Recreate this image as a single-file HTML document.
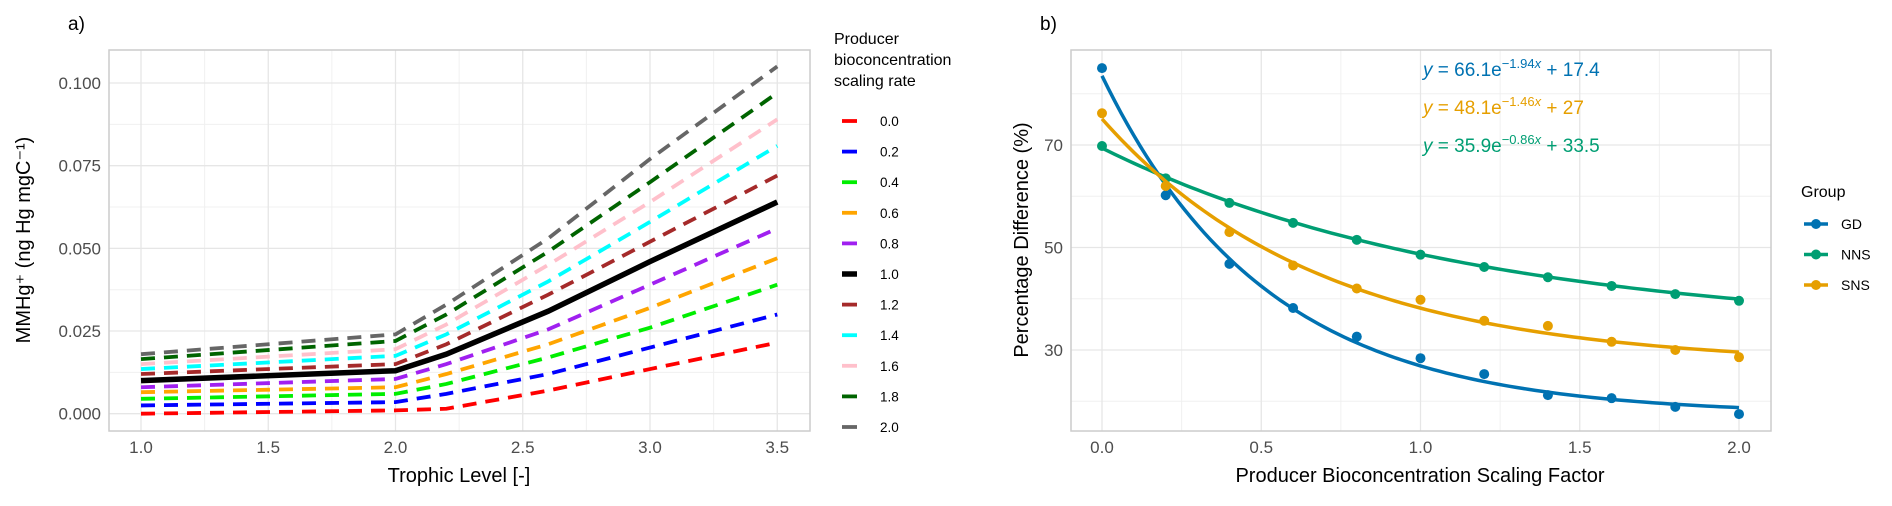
<!DOCTYPE html>
<html><head><meta charset="utf-8"><style>
body{margin:0;background:#fff;}
svg{display:block;font-family:"Liberation Sans",Arial,sans-serif;}
</style></head><body>
<svg id="c" width="1892" height="506" viewBox="0 0 1892 506"></svg>
<script>
// ---- Panel a data ----
const trophicLevels = [1.0, 2.0, 2.2, 2.6, 3.0, 3.5];
const scalingRates = ["0.0","0.2","0.4","0.6","0.8","1.0","1.2","1.4","1.6","1.8","2.0"];
const seriesColors = ["#ff0000","#0000ff","#00ee00","#ffa500","#a020f0","#000000","#a52a2a","#00ffff","#ffc0cb","#006400","#666666"];
const r00 = [0.000,0.001,0.0015,0.007,0.0135,0.0215];
const r02 = [0.0025,0.0035,0.006,0.012,0.020,0.030];
const r04 = [0.0045,0.006,0.009,0.017,0.026,0.039];
const r06 = [0.0065,0.008,0.012,0.021,0.032,0.047];
const r08 = [0.008,0.0105,0.015,0.0255,0.039,0.056];
const r10 = [0.010,0.013,0.018,0.031,0.046,0.064];
const r12 = [0.012,0.015,0.021,0.036,0.052,0.072];
const r14 = [0.0135,0.0175,0.024,0.040,0.058,0.081];
const r16 = [0.015,0.0195,0.027,0.045,0.064,0.089];
const r18 = [0.0165,0.022,0.030,0.049,0.070,0.097];
const r20 = [0.018,0.024,0.033,0.053,0.077,0.105];
const seriesA = [r00,r02,r04,r06,r08,r10,r12,r14,r16,r18,r20];
const aXTicks = [1.0,1.5,2.0,2.5,3.0,3.5];
const aYTicks = [0.000,0.025,0.050,0.075,0.100];
// ---- Panel b data ----
const factors = [0,0.2,0.4,0.6,0.8,1.0,1.2,1.4,1.6,1.8,2.0];
const groups = ["GD","NNS","SNS"];
const groupColors = ["#0072b2","#009e73","#e69f00"];
const gdValues = [85,60.2,46.8,38.2,32.6,28.4,25.3,21.2,20.6,18.9,17.5];
const nnsValues = [69.8,63.5,58.7,54.8,51.5,48.6,46.2,44.2,42.5,40.9,39.6];
const snsValues = [76.2,62,53,46.5,42,39.8,35.7,34.7,31.6,30,28.6];
const fitA = [66.1,35.9,48.1];
const fitB = [-1.94,-0.86,-1.46];
const fitC = [17.4,33.5,27];
const bXTicks = [0.0,0.5,1.0,1.5,2.0];
const bYTicks = [30,50,70];
const bYMinor = [20,40,60,80];

const svg = document.getElementById('c');
const NS = "http://www.w3.org/2000/svg";
function mk(tag, attrs, parent){const e=document.createElementNS(NS,tag);for(const k in attrs)e.setAttribute(k,attrs[k]);(parent||svg).appendChild(e);return e;}

// ===== Panel a =====
const ax = v => 141 + (v-1)*254.5;
const ay = v => 413.7 - v*3307;
const gA = mk('g',{});


mk('rect',{x:109,y:50,width:701,height:381,fill:'#fff'},gA);
for(let v=1.25; v<3.6; v+=0.5){mk('line',{x1:ax(v),x2:ax(v),y1:50,y2:431,stroke:'#f0f0f0','stroke-width':1},gA);}
for(let i=0;i<aYTicks.length-1;i++){const v=(aYTicks[i]+aYTicks[i+1])/2;mk('line',{x1:109,x2:810,y1:ay(v),y2:ay(v),stroke:'#f0f0f0','stroke-width':1},gA);}
aXTicks.forEach(v=>{
  const l=mk('line',{x1:ax(v),x2:ax(v),y1:50,y2:431,stroke:'#e6e6e6','stroke-width':1.3},gA);
  
  
  const t=mk('text',{x:ax(v),y:453,'text-anchor':'middle','font-size':17,fill:'#4d4d4d'},gA);
  t.textContent=v.toFixed(1);
  
  
});
aYTicks.forEach(v=>{
  mk('line',{x1:109,x2:810,y1:ay(v),y2:ay(v),stroke:'#e6e6e6','stroke-width':1.3},gA);
  const t=mk('text',{x:101,y:ay(v)+6,'text-anchor':'end','font-size':17,fill:'#4d4d4d'},gA);
  t.textContent=v.toFixed(3);
  
  
});
seriesA.forEach((s,i)=>{
  const pts=s.map((v,j)=>ax(trophicLevels[j])+','+ay(v)).join(' ');
  const solid = scalingRates[i]==="1.0";
  const p=mk('polyline',{points:pts,fill:'none',stroke:seriesColors[i],'stroke-width':solid?5.5:3.8,'stroke-dasharray':solid?'none':'14 9'},gA);
  
  
});
mk('rect',{x:109,y:50,width:701,height:381,fill:'none',stroke:'#cccccc','stroke-width':1.5},gA);
let t;
t=mk('text',{x:68,y:30,'font-size':19,fill:'#000'},gA);t.textContent='a)';

t=mk('text',{x:459,y:482,'text-anchor':'middle','font-size':20,fill:'#000'},gA);t.textContent='Trophic Level [-]';

t=mk('text',{x:0,y:0,'text-anchor':'middle','font-size':20,fill:'#000',transform:'translate(30,240) rotate(-90)'},gA);t.textContent='MMHg⁺ (ng Hg mgC⁻¹)';

// legend a
['Producer','bioconcentration','scaling rate'].forEach((s,i)=>{const e=mk('text',{x:834,y:44+i*21,'font-size':16,fill:'#000'},gA);e.textContent=s;
});
scalingRates.forEach((r,i)=>{
  const y=121+i*30.6;
  const l=mk('line',{x1:842,x2:857,y1:y,y2:y,stroke:seriesColors[i],'stroke-width':r==="1.0"?5.5:3.8},gA);
  
  const e=mk('text',{x:880,y:y+5,'font-size':13.5,fill:'#000'},gA);e.textContent=r;
  
});

// ===== Panel b =====
const bx = v => 1102 + v*318.5;
const by = v => 145 + (70-v)*5.125;
const gB = mk('g',{});


[0.25,0.75,1.25,1.75].forEach(v=>mk('line',{x1:bx(v),x2:bx(v),y1:50,y2:431,stroke:'#f0f0f0','stroke-width':1},gB));
bYMinor.forEach(v=>mk('line',{x1:1071,x2:1771,y1:by(v),y2:by(v),stroke:'#f0f0f0','stroke-width':1},gB));
bXTicks.forEach(v=>{
  mk('line',{x1:bx(v),x2:bx(v),y1:50,y2:431,stroke:'#e6e6e6','stroke-width':1.3},gB);
  const e=mk('text',{x:bx(v),y:453,'text-anchor':'middle','font-size':17,fill:'#4d4d4d'},gB);e.textContent=v.toFixed(1);
  
});
bYTicks.forEach(v=>{
  mk('line',{x1:1071,x2:1771,y1:by(v),y2:by(v),stroke:'#e6e6e6','stroke-width':1.3},gB);
  const e=mk('text',{x:1063,y:by(v)+6,'text-anchor':'end','font-size':17,fill:'#4d4d4d'},gB);e.textContent=v;
  
});
const bSeries=[gdValues,nnsValues,snsValues];
groups.forEach((g,i)=>{
  let pts=[];
  for(let k=0;k<=100;k++){const xv=k*0.02;pts.push(bx(xv)+','+by(fitA[i]*Math.exp(fitB[i]*xv)+fitC[i]));}
  const p=mk('polyline',{points:pts.join(' '),fill:'none',stroke:groupColors[i],'stroke-width':3.5},gB);
  
  bSeries[i].forEach((v,j)=>{
    const c=mk('circle',{cx:bx(factors[j]),cy:by(v),r:5,fill:groupColors[i]},gB);
    
  });
});
mk('rect',{x:1071,y:50,width:700,height:381,fill:'none',stroke:'#cccccc','stroke-width':1.5},gB);
t=mk('text',{x:1040,y:30,'font-size':19,fill:'#000'},gB);t.textContent='b)';

t=mk('text',{x:1420,y:482,'text-anchor':'middle','font-size':20,fill:'#000'},gB);t.textContent='Producer Bioconcentration Scaling Factor';

t=mk('text',{x:0,y:0,'text-anchor':'middle','font-size':20,fill:'#000',transform:'translate(1028,240) rotate(-90)'},gB);t.textContent='Percentage Difference (%)';

// equations
const eqOrder=[0,2,1];
eqOrder.forEach((gi,k)=>{
  const y=76+k*38;
  const e=mk('text',{x:1423,y:y,'font-size':19,fill:groupColors[gi]},gB);
  
  const s1=mk('tspan',{'font-style':'italic'},e);s1.textContent='y';
  const s2=mk('tspan',{},e);s2.textContent=' = '+fitA[gi].toFixed(1)+'e';
  const s3=mk('tspan',{dy:-8,'font-size':13},e);s3.textContent=fitB[gi].toFixed(2).replace('-','−');
  const s4=mk('tspan',{'font-size':13,'font-style':'italic'},e);s4.textContent='x';
  const s5=mk('tspan',{dy:8},e);s5.textContent=' + '+fitC[gi];
});
// legend b
t=mk('text',{x:1801,y:197,'font-size':16,fill:'#000'},gB);t.textContent='Group';

groups.forEach((g,i)=>{
  const y=224+i*30.5;
  mk('line',{x1:1804,x2:1828,y1:y,y2:y,stroke:groupColors[i],'stroke-width':3.5},gB);
  const c=mk('circle',{cx:1816,cy:y,r:5,fill:groupColors[i]},gB);
  
  const e=mk('text',{x:1841,y:y+5,'font-size':14,fill:'#000'},gB);e.textContent=g;
  
});
</script>
</body></html>
